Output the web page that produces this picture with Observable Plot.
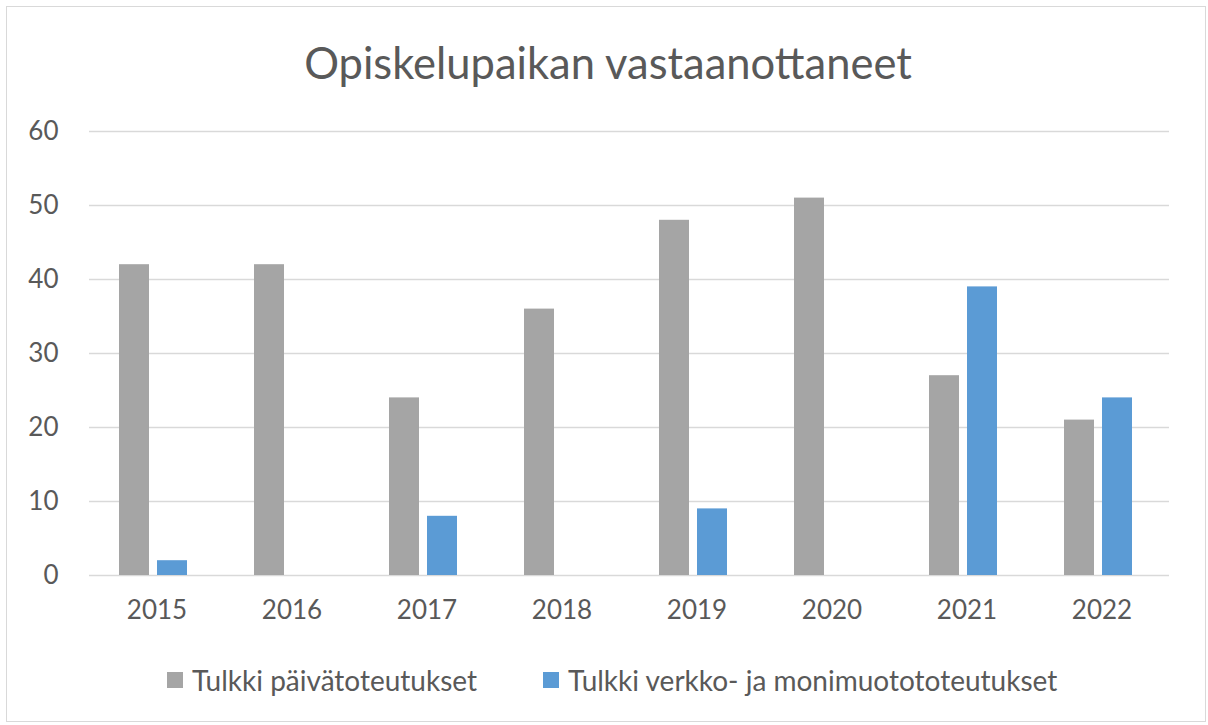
<!DOCTYPE html>
<html>
<head>
<meta charset="utf-8">
<script src="https://cdn.jsdelivr.net/npm/d3@7"></script>
<script src="https://cdn.jsdelivr.net/npm/@observablehq/plot@0.6"></script>
<style>
  html, body { margin: 0; padding: 0; background: #fff; }
  #wrap { position: relative; width: 1208px; height: 725px; overflow: hidden; font-family: Lato, sans-serif; color: #595959; }
  #frame { position: absolute; left: 6px; top: 6px; width: 1200px; height: 716px; border: 1.5px solid #d9d9d9; box-sizing: border-box; }
  #title { position: absolute; left: 0; width: 1216px; top: 35px; text-align: center; font-size: 43.5px; line-height: 54px; }
  #chart { position: absolute; left: 0; top: 0; }
  #legend { position: absolute; left: 167px; top: 663px; display: flex; align-items: center; font-size: 28px; line-height: 34px; }
  .item { display: flex; align-items: center; }
  .sw { width: 16px; height: 16px; margin-right: 9px; }
</style>
</head>
<body>
<div id="wrap">
  <div id="frame"></div>
  <div id="title"></div>
  <div id="chart"></div>
  <div id="legend"></div>
</div>
<script>
const title = "Opiskelupaikan vastaanottaneet";
const years = ["2015", "2016", "2017", "2018", "2019", "2020", "2021", "2022"];
const seriesNames = ["Tulkki päivätoteutukset", "Tulkki verkko- ja monimuotototeutukset"];
const paivaValues = [42, 42, 24, 36, 48, 51, 27, 21];
const verkkoValues = [2, 0, 8, 0, 9, 0, 39, 24];
const yTicks = [0, 10, 20, 30, 40, 50, 60];
const colors = ["#a5a5a5", "#5b9bd5"];

const data = years.flatMap((y, i) => [
  {year: y, series: seriesNames[0], value: paivaValues[i]},
  {year: y, series: seriesNames[1], value: verkkoValues[i]}
]);

document.getElementById("title").textContent = title;

const chart = Plot.plot({
  width: 1208,
  height: 635,
  marginTop: 131,
  marginBottom: 60,
  marginLeft: 86,
  marginRight: 36,
  style: {fontFamily: "Lato, sans-serif", fontSize: "26px", color: "#595959", background: "transparent"},
  facet: {data: data, x: "year"},
  fx: {domain: years, paddingInner: 0, paddingOuter: 0, label: null, axis: "bottom", tickSize: 0, tickPadding: 25},
  x: {domain: seriesNames, axis: null, paddingInner: 0.2, paddingOuter: 0.86, align: 0.45},
  y: {domain: [0, 60], ticks: yTicks, tickSize: 0, tickPadding: 31, label: null, grid: false},
  color: {domain: seriesNames, range: colors},
  marks: [
    Plot.ruleY(yTicks, {stroke: "#d9d9d9", strokeWidth: 1.5, strokeOpacity: 1}),
    Plot.barY(data, {x: "series", y: "value", fill: "series"})
  ]
});
document.getElementById("chart").appendChild(chart);

const legend = document.getElementById("legend");
seriesNames.forEach((name, i) => {
  const item = document.createElement("div");
  item.className = "item";
  if (i > 0) item.style.marginLeft = "66px";
  const sw = document.createElement("div");
  sw.className = "sw";
  sw.style.background = colors[i];
  const t = document.createElement("span");
  t.textContent = name;
  item.appendChild(sw);
  item.appendChild(t);
  legend.appendChild(item);
});
</script>
</body>
</html>
